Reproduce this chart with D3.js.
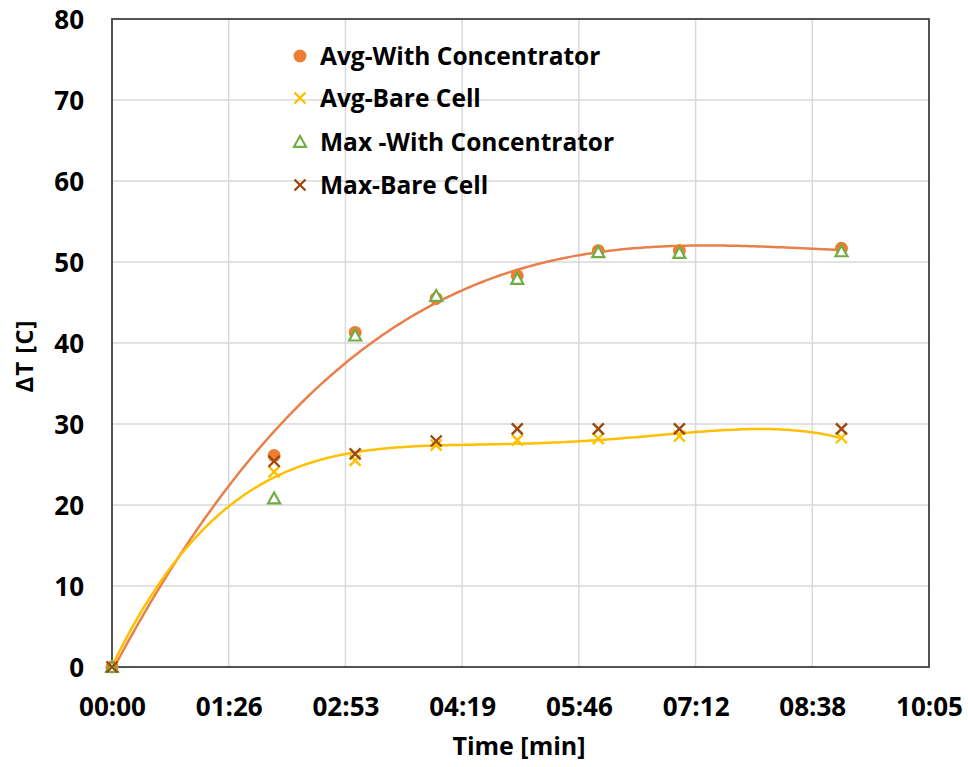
<!DOCTYPE html>
<html>
<head>
<meta charset="utf-8">
<script src="https://cdn.jsdelivr.net/npm/d3@7"></script>
<style>
  html, body { margin: 0; padding: 0; background: #fff; }
  svg { display: block; }
  text { font-family: "Open Sans", "Liberation Sans", sans-serif; font-weight: bold; fill: #000; }
</style>
</head>
<body>
<svg id="chart" width="968" height="767"></svg>
<script>
// ---- data (time in seconds, ΔT in °C) ----
const timeSec = [0, 120, 180, 240, 300, 360, 420, 540];
const avgWithConcentrator = [0, 26.1, 41.3, 45.5, 48.3, 51.4, 51.4, 51.7];
const avgBareCell         = [0, 24.1, 25.5, 27.4, 28.0, 28.2, 28.5, 28.3];
const maxWithConcentrator = [0, 20.8, 40.9, 45.8, 47.9, 51.2, 51.1, 51.3];
const maxBareCell         = [0, 25.4, 26.3, 27.9, 29.4, 29.4, 29.4, 29.4];

const seriesNames = ["Avg-With Concentrator", "Avg-Bare Cell", "Max -With Concentrator", "Max-Bare Cell"];
const xTickValues = [0, 86.4, 172.8, 259.2, 345.6, 432, 518.4, 604.8];
const xTickLabels = ["00:00", "01:26", "02:53", "04:19", "05:46", "07:12", "08:38", "10:05"];
const yTickValues = [0, 10, 20, 30, 40, 50, 60, 70, 80];
const trendOrderOrange = 3;
const trendOrderYellow = 4;

// ---- layout ----
const svg = d3.select("#chart");
const L = 112, R = 929, T = 19, B = 667;
const x = d3.scaleLinear().domain([0, 604.8]).range([L, R]);
const y = d3.scaleLinear().domain([0, 80]).range([B, T]);

const colors = {
  circle: "#ED7D31",
  xYellow: "#FFC000",
  tri: "#70AD47",
  xBrown: "#9E480E",
  trendOrange: "#E8804A",
  trendYellow: "#FFC000"
};

// gridlines
const grid = svg.append("g");
grid.selectAll("line.v").data(xTickValues.slice(1, -1)).join("line")
  .attr("x1", d => x(d)).attr("x2", d => x(d)).attr("y1", T).attr("y2", B)
  .attr("stroke", "#D9D9D9").attr("stroke-width", 1.5);
grid.selectAll("line.h").data(yTickValues.slice(1, -1)).join("line")
  .attr("x1", L).attr("x2", R).attr("y1", d => y(d)).attr("y2", d => y(d))
  .attr("stroke", "#D9D9D9").attr("stroke-width", 1.5);

// plot border
svg.append("rect").attr("x", L).attr("y", T).attr("width", R - L).attr("height", B - T)
  .attr("fill", "none").attr("stroke", "#404040").attr("stroke-width", 1.8);

// axes (labels only)
const xAxis = d3.axisBottom(x).tickValues(xTickValues)
  .tickFormat((d, i) => xTickLabels[i]).tickSize(0).tickPadding(0);
const gx = svg.append("g").attr("transform", `translate(0,${B})`).call(xAxis);
gx.select(".domain").remove();
gx.selectAll("text").attr("dy", null).attr("y", 49).style("font-size", "26px")
  .style("font-family", "'Open Sans', sans-serif").style("font-weight", "bold");

const yAxis = d3.axisLeft(y).tickValues(yTickValues).tickFormat(d3.format("d"))
  .tickSize(0).tickPadding(0);
const gy = svg.append("g").attr("transform", `translate(84,0)`).call(yAxis);
gy.select(".domain").remove();
gy.selectAll("text").attr("dy", "0.36em").style("font-size", "26px")
  .style("font-family", "'Open Sans', sans-serif").style("font-weight", "bold");

// axis titles
svg.append("text").attr("x", 519).attr("y", 755).attr("text-anchor", "middle")
  .style("font-size", "25px").text("Time [min]");
svg.append("text").attr("transform", "translate(33,356) rotate(-90)").attr("text-anchor", "middle")
  .style("font-size", "24px").style("letter-spacing", "1px").text("ΔT [C]");

// ---- polynomial least-squares trendline (like Excel's) ----
function polyFit(xs, ys, order) {
  const n = order + 1;
  const A = Array.from({length: n}, () => new Array(n + 1).fill(0));
  xs.forEach((xv, k) => {
    for (let i = 0; i < n; i++) {
      for (let j = 0; j < n; j++) A[i][j] += Math.pow(xv, i + j);
      A[i][n] += ys[k] * Math.pow(xv, i);
    }
  });
  for (let c = 0; c < n; c++) {
    let p = c;
    for (let r = c + 1; r < n; r++) if (Math.abs(A[r][c]) > Math.abs(A[p][c])) p = r;
    [A[c], A[p]] = [A[p], A[c]];
    for (let r = 0; r < n; r++) {
      if (r === c) continue;
      const f = A[r][c] / A[c][c];
      for (let k = c; k <= n; k++) A[r][k] -= f * A[c][k];
    }
  }
  return A.map((row, i) => row[n] / row[i]);
}
function trend(ys, order, color) {
  const xm = timeSec.map(t => t / 60);
  const coef = polyFit(xm, ys, order);
  const f = t => coef.reduce((s, c, i) => s + c * Math.pow(t / 60, i), 0);
  const ts = d3.range(0, timeSec[timeSec.length - 1] + 0.01, 2);
  svg.append("path").datum(ts)
    .attr("d", d3.line().x(t => x(t)).y(t => y(f(t))))
    .attr("fill", "none").attr("stroke", color).attr("stroke-width", 2.5);
}
trend(avgWithConcentrator, trendOrderOrange, colors.trendOrange);
trend(avgBareCell, trendOrderYellow, colors.trendYellow);

// ---- markers ----
const pts = ys => timeSec.map((t, i) => [t, ys[i]]);
function drawCircle(g, cx, cy, col) {
  g.append("circle").attr("cx", cx).attr("cy", cy).attr("r", 6.5).attr("fill", col);
}
function drawX(g, cx, cy, col) {
  const s = 5.5;
  g.append("path").attr("d", `M${cx - s},${cy - s}L${cx + s},${cy + s}M${cx - s},${cy + s}L${cx + s},${cy - s}`)
    .attr("stroke", col).attr("stroke-width", 2.4).attr("fill", "none");
}
function drawTri(g, cx, cy, col) {
  const s = 6;
  g.append("path").attr("d", `M${cx},${cy - s}L${cx + s},${cy + s * 0.8}L${cx - s},${cy + s * 0.8}Z`)
    .attr("stroke", col).attr("stroke-width", 2.2).attr("fill", "#fff");
}
const mk = svg.append("g");
pts(avgWithConcentrator).forEach(([t, v]) => drawCircle(mk, x(t), y(v), colors.circle));
pts(avgBareCell).forEach(([t, v]) => drawX(mk, x(t), y(v), colors.xYellow));
pts(maxWithConcentrator).forEach(([t, v]) => drawTri(mk, x(t), y(v), colors.tri));
pts(maxBareCell).forEach(([t, v]) => drawX(mk, x(t), y(v), colors.xBrown));

// ---- legend ----
const legY = [56, 98, 142, 185];
const lg = svg.append("g");
drawCircle(lg, 300, legY[0], colors.circle);
drawX(lg, 300, legY[1], colors.xYellow);
drawTri(lg, 300, legY[2], colors.tri);
drawX(lg, 300, legY[3], colors.xBrown);
seriesNames.forEach((n, i) => {
  lg.append("text").attr("x", 320).attr("y", legY[i]).attr("dy", "0.36em")
    .style("font-size", "24.5px").text(n);
});
</script>
</body>
</html>
